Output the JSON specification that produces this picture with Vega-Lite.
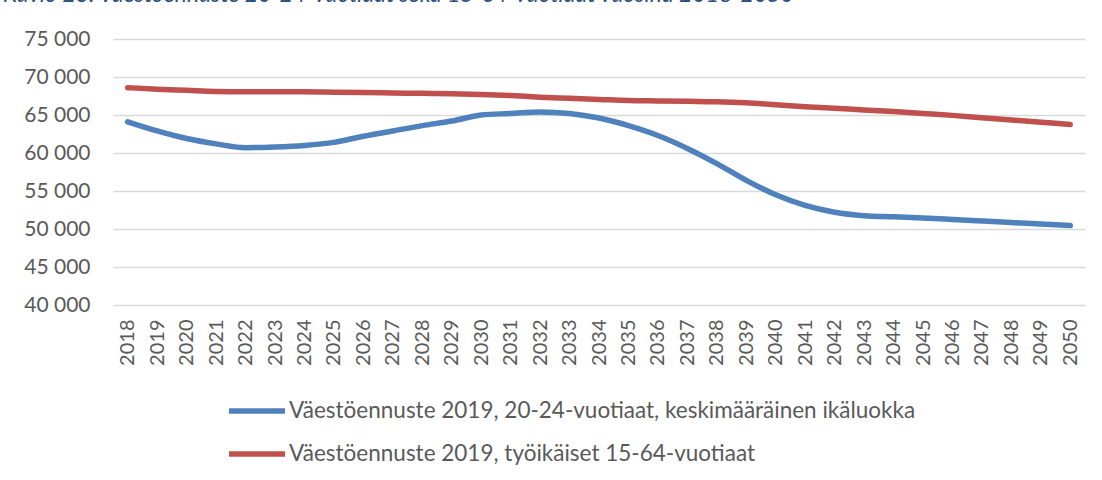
{
  "$schema": "https://vega.github.io/schema/vega-lite/v6.json",
  "autosize": {"type": "none"},
  "width": 972,
  "height": 266,
  "padding": {"left": 113, "top": 39, "right": 17, "bottom": 175},
  "background": "white",
  "title": {
    "text": "Kuvio 23. Väestöennuste 20-24-vuotiaat sekä 15-64-vuotiaat vuosina 2018-2050",
    "anchor": "start",
    "frame": "group",
    "dx": -110,
    "offset": 21,
    "fontSize": 23,
    "font": "Lato",
    "fontStyle": "italic",
    "fontWeight": "normal",
    "color": "#2A4F80"
  },
  "data": {
    "values": [
      {"year": "2018", "series": "Väestöennuste 2019, 20-24-vuotiaat, keskimääräinen ikäluokka", "value": 64100},
      {"year": "2019", "series": "Väestöennuste 2019, 20-24-vuotiaat, keskimääräinen ikäluokka", "value": 62900},
      {"year": "2020", "series": "Väestöennuste 2019, 20-24-vuotiaat, keskimääräinen ikäluokka", "value": 61900},
      {"year": "2021", "series": "Väestöennuste 2019, 20-24-vuotiaat, keskimääräinen ikäluokka", "value": 61200},
      {"year": "2022", "series": "Väestöennuste 2019, 20-24-vuotiaat, keskimääräinen ikäluokka", "value": 60700},
      {"year": "2023", "series": "Väestöennuste 2019, 20-24-vuotiaat, keskimääräinen ikäluokka", "value": 60800},
      {"year": "2024", "series": "Väestöennuste 2019, 20-24-vuotiaat, keskimääräinen ikäluokka", "value": 61000},
      {"year": "2025", "series": "Väestöennuste 2019, 20-24-vuotiaat, keskimääräinen ikäluokka", "value": 61400},
      {"year": "2026", "series": "Väestöennuste 2019, 20-24-vuotiaat, keskimääräinen ikäluokka", "value": 62200},
      {"year": "2027", "series": "Väestöennuste 2019, 20-24-vuotiaat, keskimääräinen ikäluokka", "value": 62900},
      {"year": "2028", "series": "Väestöennuste 2019, 20-24-vuotiaat, keskimääräinen ikäluokka", "value": 63600},
      {"year": "2029", "series": "Väestöennuste 2019, 20-24-vuotiaat, keskimääräinen ikäluokka", "value": 64200},
      {"year": "2030", "series": "Väestöennuste 2019, 20-24-vuotiaat, keskimääräinen ikäluokka", "value": 65000},
      {"year": "2031", "series": "Väestöennuste 2019, 20-24-vuotiaat, keskimääräinen ikäluokka", "value": 65200},
      {"year": "2032", "series": "Väestöennuste 2019, 20-24-vuotiaat, keskimääräinen ikäluokka", "value": 65400},
      {"year": "2033", "series": "Väestöennuste 2019, 20-24-vuotiaat, keskimääräinen ikäluokka", "value": 65200},
      {"year": "2034", "series": "Väestöennuste 2019, 20-24-vuotiaat, keskimääräinen ikäluokka", "value": 64600},
      {"year": "2035", "series": "Väestöennuste 2019, 20-24-vuotiaat, keskimääräinen ikäluokka", "value": 63600},
      {"year": "2036", "series": "Väestöennuste 2019, 20-24-vuotiaat, keskimääräinen ikäluokka", "value": 62300},
      {"year": "2037", "series": "Väestöennuste 2019, 20-24-vuotiaat, keskimääräinen ikäluokka", "value": 60600},
      {"year": "2038", "series": "Väestöennuste 2019, 20-24-vuotiaat, keskimääräinen ikäluokka", "value": 58600},
      {"year": "2039", "series": "Väestöennuste 2019, 20-24-vuotiaat, keskimääräinen ikäluokka", "value": 56400},
      {"year": "2040", "series": "Väestöennuste 2019, 20-24-vuotiaat, keskimääräinen ikäluokka", "value": 54500},
      {"year": "2041", "series": "Väestöennuste 2019, 20-24-vuotiaat, keskimääräinen ikäluokka", "value": 53100},
      {"year": "2042", "series": "Väestöennuste 2019, 20-24-vuotiaat, keskimääräinen ikäluokka", "value": 52200},
      {"year": "2043", "series": "Väestöennuste 2019, 20-24-vuotiaat, keskimääräinen ikäluokka", "value": 51750},
      {"year": "2044", "series": "Väestöennuste 2019, 20-24-vuotiaat, keskimääräinen ikäluokka", "value": 51600},
      {"year": "2045", "series": "Väestöennuste 2019, 20-24-vuotiaat, keskimääräinen ikäluokka", "value": 51450},
      {"year": "2046", "series": "Väestöennuste 2019, 20-24-vuotiaat, keskimääräinen ikäluokka", "value": 51250},
      {"year": "2047", "series": "Väestöennuste 2019, 20-24-vuotiaat, keskimääräinen ikäluokka", "value": 51050},
      {"year": "2048", "series": "Väestöennuste 2019, 20-24-vuotiaat, keskimääräinen ikäluokka", "value": 50850},
      {"year": "2049", "series": "Väestöennuste 2019, 20-24-vuotiaat, keskimääräinen ikäluokka", "value": 50650},
      {"year": "2050", "series": "Väestöennuste 2019, 20-24-vuotiaat, keskimääräinen ikäluokka", "value": 50450},
      {"year": "2018", "series": "Väestöennuste 2019, työikäiset 15-64-vuotiaat", "value": 68600},
      {"year": "2019", "series": "Väestöennuste 2019, työikäiset 15-64-vuotiaat", "value": 68400},
      {"year": "2020", "series": "Väestöennuste 2019, työikäiset 15-64-vuotiaat", "value": 68250},
      {"year": "2021", "series": "Väestöennuste 2019, työikäiset 15-64-vuotiaat", "value": 68100},
      {"year": "2022", "series": "Väestöennuste 2019, työikäiset 15-64-vuotiaat", "value": 68050},
      {"year": "2023", "series": "Väestöennuste 2019, työikäiset 15-64-vuotiaat", "value": 68050},
      {"year": "2024", "series": "Väestöennuste 2019, työikäiset 15-64-vuotiaat", "value": 68050},
      {"year": "2025", "series": "Väestöennuste 2019, työikäiset 15-64-vuotiaat", "value": 68000},
      {"year": "2026", "series": "Väestöennuste 2019, työikäiset 15-64-vuotiaat", "value": 67950},
      {"year": "2027", "series": "Väestöennuste 2019, työikäiset 15-64-vuotiaat", "value": 67900},
      {"year": "2028", "series": "Väestöennuste 2019, työikäiset 15-64-vuotiaat", "value": 67850},
      {"year": "2029", "series": "Väestöennuste 2019, työikäiset 15-64-vuotiaat", "value": 67800},
      {"year": "2030", "series": "Väestöennuste 2019, työikäiset 15-64-vuotiaat", "value": 67700},
      {"year": "2031", "series": "Väestöennuste 2019, työikäiset 15-64-vuotiaat", "value": 67550},
      {"year": "2032", "series": "Väestöennuste 2019, työikäiset 15-64-vuotiaat", "value": 67350},
      {"year": "2033", "series": "Väestöennuste 2019, työikäiset 15-64-vuotiaat", "value": 67200},
      {"year": "2034", "series": "Väestöennuste 2019, työikäiset 15-64-vuotiaat", "value": 67050},
      {"year": "2035", "series": "Väestöennuste 2019, työikäiset 15-64-vuotiaat", "value": 66900},
      {"year": "2036", "series": "Väestöennuste 2019, työikäiset 15-64-vuotiaat", "value": 66850},
      {"year": "2037", "series": "Väestöennuste 2019, työikäiset 15-64-vuotiaat", "value": 66800},
      {"year": "2038", "series": "Väestöennuste 2019, työikäiset 15-64-vuotiaat", "value": 66750},
      {"year": "2039", "series": "Väestöennuste 2019, työikäiset 15-64-vuotiaat", "value": 66600},
      {"year": "2040", "series": "Väestöennuste 2019, työikäiset 15-64-vuotiaat", "value": 66350},
      {"year": "2041", "series": "Väestöennuste 2019, työikäiset 15-64-vuotiaat", "value": 66100},
      {"year": "2042", "series": "Väestöennuste 2019, työikäiset 15-64-vuotiaat", "value": 65900},
      {"year": "2043", "series": "Väestöennuste 2019, työikäiset 15-64-vuotiaat", "value": 65650},
      {"year": "2044", "series": "Väestöennuste 2019, työikäiset 15-64-vuotiaat", "value": 65450},
      {"year": "2045", "series": "Väestöennuste 2019, työikäiset 15-64-vuotiaat", "value": 65200},
      {"year": "2046", "series": "Väestöennuste 2019, työikäiset 15-64-vuotiaat", "value": 64950},
      {"year": "2047", "series": "Väestöennuste 2019, työikäiset 15-64-vuotiaat", "value": 64650},
      {"year": "2048", "series": "Väestöennuste 2019, työikäiset 15-64-vuotiaat", "value": 64350},
      {"year": "2049", "series": "Väestöennuste 2019, työikäiset 15-64-vuotiaat", "value": 64050},
      {"year": "2050", "series": "Väestöennuste 2019, työikäiset 15-64-vuotiaat", "value": 63750}
    ]
  },
  "mark": {"type": "line", "strokeWidth": 5.5, "strokeCap": "round", "strokeJoin": "round", "interpolate": "monotone"},
  "encoding": {
    "x": {
      "field": "year",
      "type": "ordinal",
      "scale": {"type": "point", "padding": 0.5},
      "axis": {
        "title": null,
        "labelAngle": -90,
        "labelAlign": "right",
        "labelBaseline": "middle",
        "labelPadding": 14,
        "labelFontSize": 20,
        "labelFont": "Lato",
        "labelColor": "#595959",
        "ticks": false,
        "domain": false,
        "grid": false
      }
    },
    "y": {
      "field": "value",
      "type": "quantitative",
      "scale": {"domain": [40000, 75000], "nice": false, "zero": false},
      "axis": {
        "title": null,
        "values": [40000, 45000, 50000, 55000, 60000, 65000, 70000, 75000],
        "labelExpr": "replace(format(datum.value, ','), ',', ' ')",
        "labelFontSize": 21,
        "labelFont": "Lato",
        "labelColor": "#595959",
        "labelPadding": 23,
        "ticks": false,
        "domain": false,
        "grid": true,
        "gridColor": "#D9D9D9",
        "gridWidth": 1.5
      }
    },
    "color": {
      "field": "series",
      "type": "nominal",
      "scale": {
        "domain": ["Väestöennuste 2019, 20-24-vuotiaat, keskimääräinen ikäluokka", "Väestöennuste 2019, työikäiset 15-64-vuotiaat"],
        "range": ["#4F81BD", "#C0504D"]
      },
      "legend": {
        "title": null,
        "orient": "none",
        "legendX": 113,
        "legendY": 341,
        "direction": "vertical",
        "symbolType": "stroke",
        "symbolSize": 3136,
        "symbolStrokeWidth": 5.5,
        "labelFontSize": 22.5,
        "labelFont": "Lato",
        "labelColor": "#595959",
        "labelOffset": 1,
        "labelLimit": 900,
        "rowPadding": -11
      }
    }
  },
  "config": {"view": {"stroke": null}}
}
